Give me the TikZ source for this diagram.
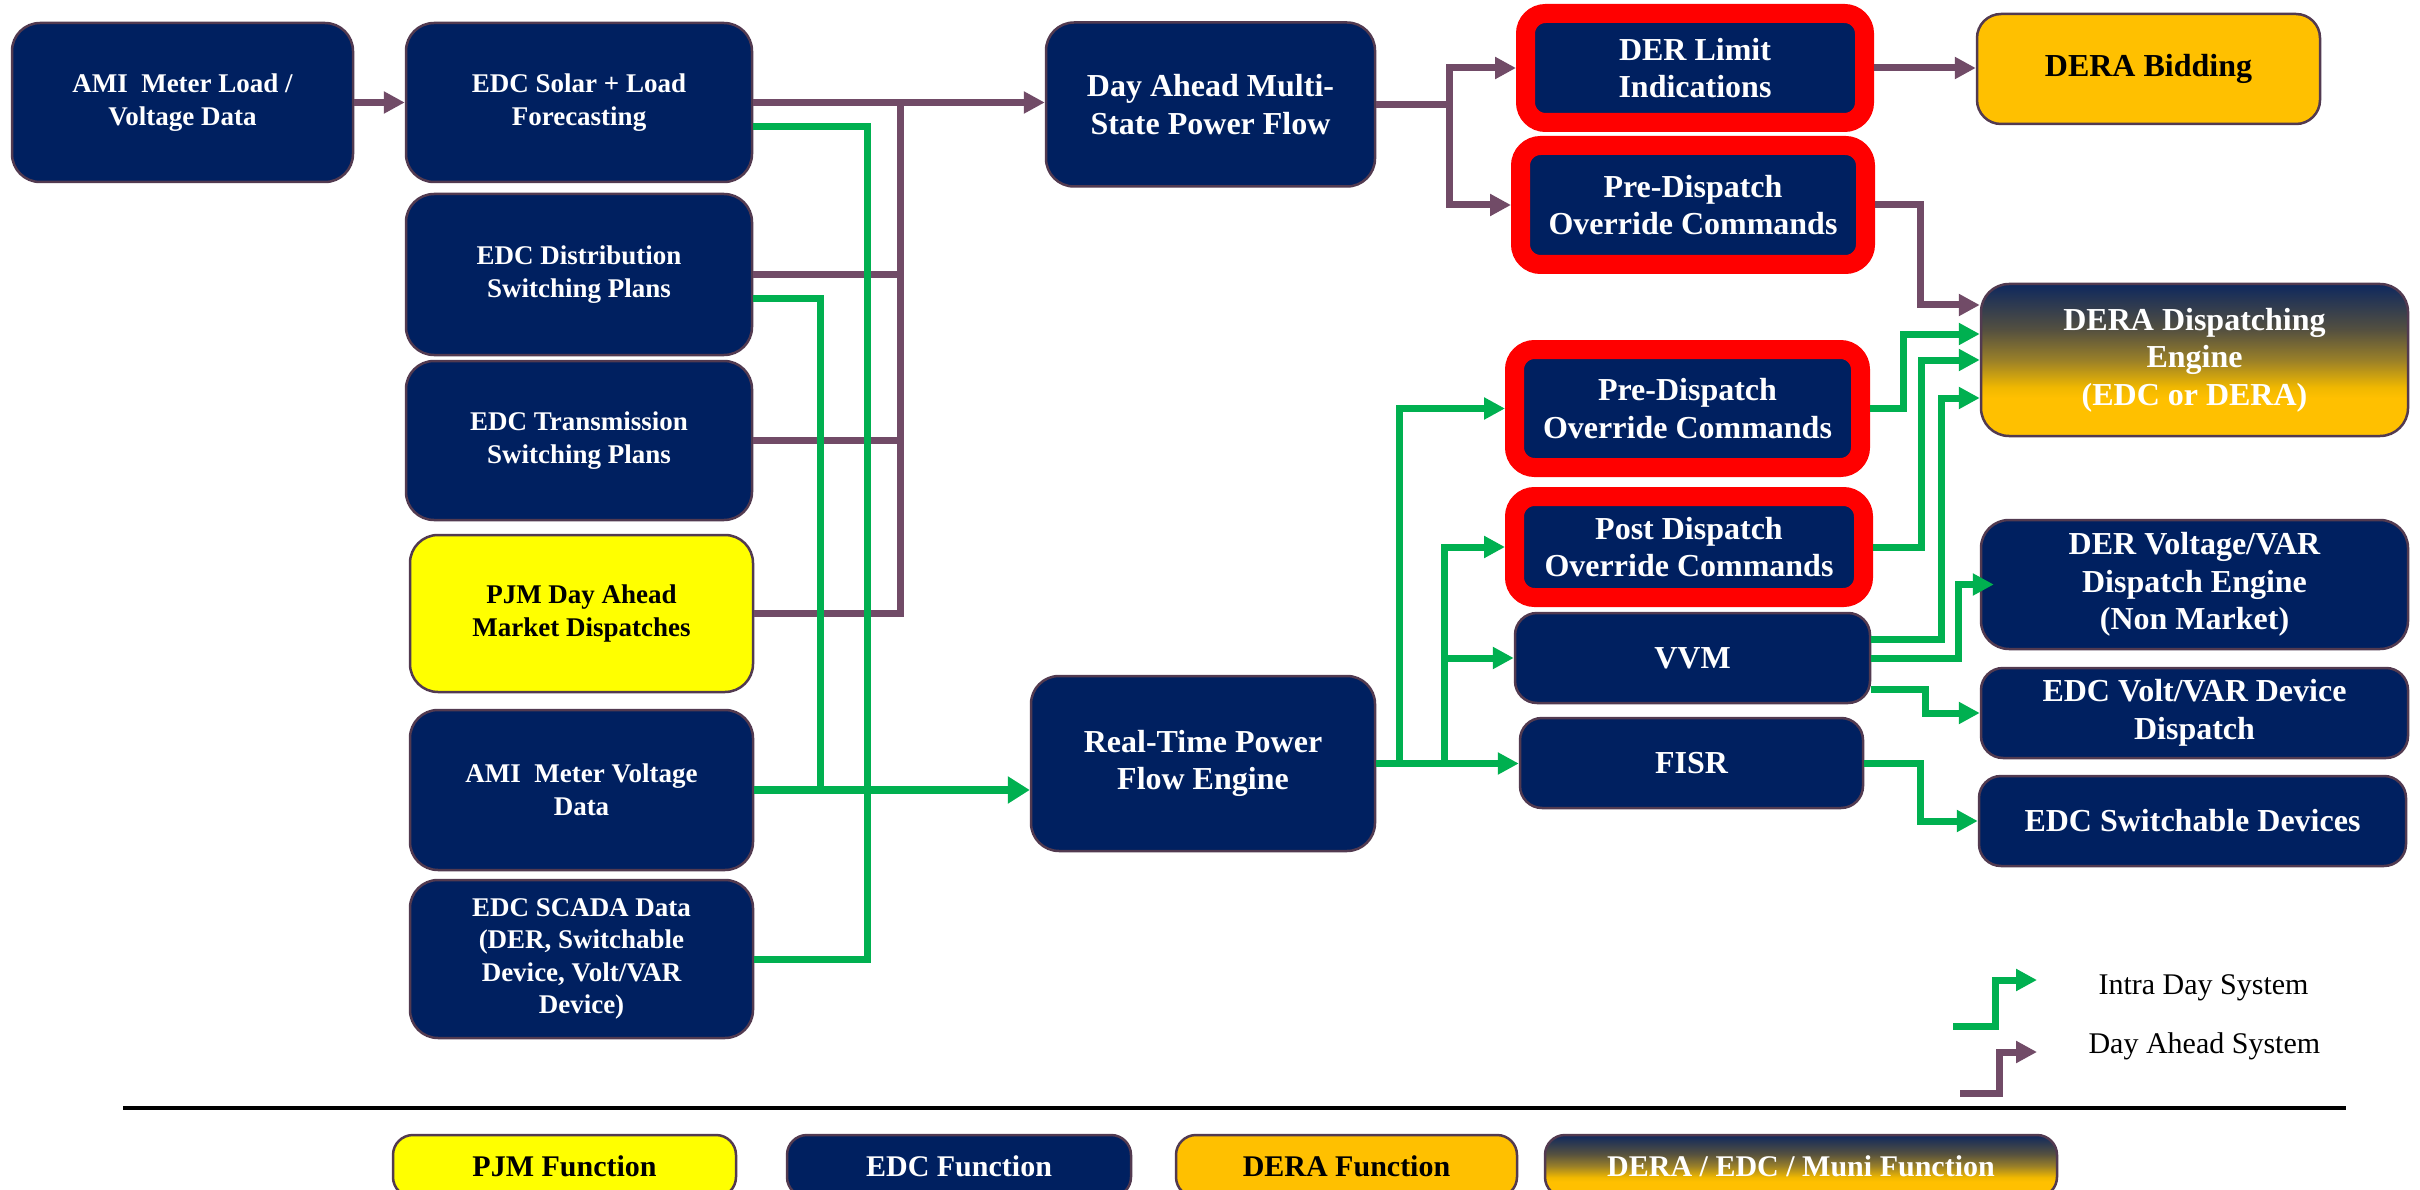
\documentclass[tikz,border=0pt]{standalone}
\usepackage{fontspec}
\setmainfont{Liberation Serif}
\usetikzlibrary{arrows.meta,calc}

\definecolor{edcnavy}{HTML}{002060}
\definecolor{pjmyellow}{HTML}{FFFF00}
\definecolor{deraorange}{HTML}{FFC000}
\definecolor{boxedge}{HTML}{523A50}
\definecolor{dapurple}{HTML}{714B67}
\definecolor{intragreen}{HTML}{00B050}
\definecolor{flagred}{HTML}{FF0000}
\definecolor{mixnavy}{HTML}{0E285E}
\definecolor{mixolive}{HTML}{545040}
\definecolor{mixgold}{HTML}{9A8028}
\definecolor{mixamber}{HTML}{F0B800}

% navy-to-orange blend for shared functions (25bp..75bp spans the node)
\pgfdeclareverticalshading{derashade}{100bp}{%
  color(0bp)=(deraorange); color(37.5bp)=(deraorange);
  color(41bp)=(mixamber); color(50bp)=(mixgold);
  color(60bp)=(mixolive); color(75bp)=(mixnavy); color(100bp)=(mixnavy)}

\tikzset{
  boxbase/.style={rectangle, inner sep=0pt, align=center, text=white},
  bigtxt/.style={font=\fontsize{32}{37.5}\selectfont\bfseries},
  smalltxt/.style={font=\fontsize{27}{32.5}\selectfont\bfseries},
  legtxt/.style={font=\fontsize{30}{36}\selectfont\bfseries},
  edcbox/.style={boxbase, fill=edcnavy, draw=boxedge, line width=2.5pt, rounded corners=28pt},
  lowbox/.style={edcbox, rounded corners=22pt},
  pjmbox/.style={edcbox, fill=pjmyellow, text=black},
  derabox/.style={edcbox, fill=deraorange, text=black},
  mixbox/.style={edcbox, shade, shading=derashade},
  flagbox/.style={boxbase, fill=edcnavy, draw=flagred, line width=19pt, rounded corners=20pt},
  daflow/.style={draw=dapurple, line width=7pt},
  intraflow/.style={draw=intragreen, line width=7pt},
  endtip/.style={-{Triangle[length=21pt,width=21pt]}},
}

\begin{document}
\begin{tikzpicture}[x=1pt,y=-1pt]
\fill[white] (0,0) rectangle (2420,1190);
\clip (0,0) rectangle (2420,1190);

% ---- input column ----
\node[edcbox,smalltxt,minimum width=341,minimum height=159] (ami) at (182.5,102.5) {AMI\ \ Meter Load /\\Voltage Data};
\node[edcbox,smalltxt,minimum width=346,minimum height=159] (solar) at (579,102.5) {EDC Solar + Load\\Forecasting};
\node[edcbox,smalltxt,minimum width=346,minimum height=161] (dist) at (579,274.5) {EDC Distribution\\Switching Plans};
\node[edcbox,smalltxt,minimum width=346,minimum height=159] (trans) at (579,440.5) {EDC Transmission\\Switching Plans};
\node[pjmbox,smalltxt,minimum width=343,minimum height=157] (pjm) at (581.5,613.5) {PJM Day Ahead\\Market Dispatches};
\node[edcbox,smalltxt,minimum width=343,minimum height=160] (amiv) at (581.5,790) {AMI\ \ Meter Voltage\\Data};
\node[edcbox,smalltxt,minimum width=343,minimum height=158] (scada) at (581.5,959) {EDC SCADA Data\\(DER, Switchable\\Device, Volt/VAR\\Device)};

% ---- power flow engines ----
\node[edcbox,bigtxt,minimum width=329,minimum height=164] (dayahead) at (1210.5,104.5) {Day Ahead Multi-\\State Power Flow};
\node[edcbox,bigtxt,minimum width=344,minimum height=175] (rt) at (1203,763.5) {Real-Time Power\\Flow Engine};

% ---- flagged command blocks ----
\node[flagbox,bigtxt,minimum width=339,minimum height=109] (derlim) at (1695,68) {DER Limit\\Indications};
\node[flagbox,bigtxt,minimum width=345,minimum height=119] (pre1) at (1693,205) {Pre-Dispatch\\Override Commands};
\node[flagbox,bigtxt,minimum width=346,minimum height=118] (pre2) at (1687.5,408.5) {Pre-Dispatch\\Override Commands};
\node[flagbox,bigtxt,minimum width=349,minimum height=101] (post) at (1689,547) {Post Dispatch\\Override Commands};
\node[lowbox,bigtxt,minimum width=355,minimum height=90] (vvm) at (1692.5,658) {VVM};
\node[lowbox,bigtxt,minimum width=343,minimum height=90] (fisr) at (1691.5,763) {FISR};

% ---- outputs ----
\node[derabox,bigtxt,rounded corners=24pt,minimum width=343,minimum height=110] (bid) at (2148.5,69) {DERA Bidding};
\node[mixbox,bigtxt,minimum width=427,minimum height=152] (dera) at (2194.5,360) {DERA Dispatching\\Engine\\(EDC or DERA)};
\node[edcbox,bigtxt,minimum width=427,minimum height=129] (dervar) at (2194.5,584.5) {DER Voltage/VAR\\Dispatch Engine\\(Non Market)};
\node[lowbox,bigtxt,minimum width=427,minimum height=90] (voltvar) at (2194.5,713) {EDC Volt/VAR Device\\Dispatch};
\node[lowbox,bigtxt,minimum width=427,minimum height=90] (sw) at (2192.5,821) {EDC Switchable Devices};

% ---- day-ahead inputs ----
\coordinate (dabus) at (900,103);
\draw[daflow,endtip] (ami.east) -- (solar.west);
\draw[daflow,endtip] (solar.east) -- (solar.east -| dayahead.west);
\draw[daflow] (dist.east) -- (dist.east -| dabus);
\draw[daflow] (trans.east) -- (trans.east -| dabus);
\draw[daflow] (pjm.east) -| (dabus);

% ---- intra-day inputs ----
\coordinate (gbusA) at (820,0);
\coordinate (gbusB) at (867,0);
\draw[intraflow] ($(solar.east)+(0,24)$) -| (scada.east -| gbusB) -- (scada.east);
\draw[intraflow] ($(dist.east)+(0,24)$) -| (amiv.east -| gbusA);
\draw[intraflow,line width=8pt,-{Triangle[length=22pt,width=26pt]}] (amiv.east) -- (amiv.east -| rt.west);

% ---- real-time engine outputs ----
\coordinate (rtbusA) at (1399,0);
\coordinate (rtbusB) at (1444,0);
\draw[intraflow,endtip] (rt.east) -- (rt.east -| fisr.west);
\draw[intraflow,endtip] (rt.east -| rtbusA) |- (pre2.west);
\draw[intraflow,endtip] (rt.east -| rtbusB) |- (post.west);
\draw[intraflow,endtip] (vvm.west -| rtbusB) -- (vvm.west);

% ---- day-ahead engine outputs ----
\draw[daflow,endtip] (dayahead.east) -- ++(73,0) |- (derlim.west);
\draw[daflow,endtip] (dayahead.east) -- ++(73,0) |- (pre1.west);
\draw[daflow,endtip] (derlim.east) -- (derlim.east -| bid.west);
\draw[daflow,endtip] (pre1.east) -| ($(dera.west)+(-59,-55)$) -- ($(dera.west)+(0,-55)$);

% ---- dispatch engine feeds ----
\draw[intraflow,endtip] (pre2.east) -| ($(dera.west)+(-76,-26)$) -- ($(dera.west)+(0,-26)$);
\draw[intraflow,endtip] (post.east) -| ($(dera.west)+(-58,0)$) -- (dera.west);
\draw[intraflow,endtip] ($(vvm.east)+(0,-19)$) -| ($(dera.west)+(-38,38)$) -- ($(dera.west)+(0,38)$);
\draw[intraflow,endtip] (vvm.east) -| ($(dervar.west)+(-21,0)$) -- ($(dervar.west)+(14,0)$);
\draw[intraflow,endtip] ($(vvm.east)+(0,31)$) -| ($(voltvar.west)+(-54,0)$) -- (voltvar.west);
\draw[intraflow,endtip] (fisr.east) -| ($(sw.west)+(-57,0)$) -- (sw.west);

% ---- line key ----
\coordinate (kgA) at (1953,1026);
\coordinate (kgB) at (2037,980);
\coordinate (kpA) at (1960,1093);
\coordinate (kpB) at (2037,1052);
\draw[intraflow,endtip] (kgA) -- ++(42,0) |- (kgB);
\draw[daflow,endtip] (kpA) -- ++(39,0) |- (kpB);
\node[font=\fontsize{30}{36}\selectfont, anchor=west] (kgtext) at (2095,988) {Intra Day System};
\node[font=\fontsize{30}{36}\selectfont, anchor=west] (kptext) at (2085,1046) {Day Ahead System};

% ---- function key ----
\coordinate (rulel) at (123,1108);
\coordinate (ruler) at (2346,1108);
\draw[line width=3.5pt] (rulel) -- (ruler);
\node[pjmbox,legtxt,rounded corners=20pt,minimum width=343,minimum height=62] (lpjm) at (564.5,1166) {PJM Function};
\node[edcbox,legtxt,rounded corners=20pt,minimum width=344,minimum height=62] (ledc) at (959,1166) {EDC Function};
\node[derabox,legtxt,rounded corners=20pt,minimum width=341,minimum height=62] (ldera) at (1346.5,1166) {DERA Function};
\node[mixbox,legtxt,rounded corners=20pt,minimum width=512,minimum height=62] (lmuni) at (1801,1166) {DERA / EDC / Muni Function};
\end{tikzpicture}
\end{document}
